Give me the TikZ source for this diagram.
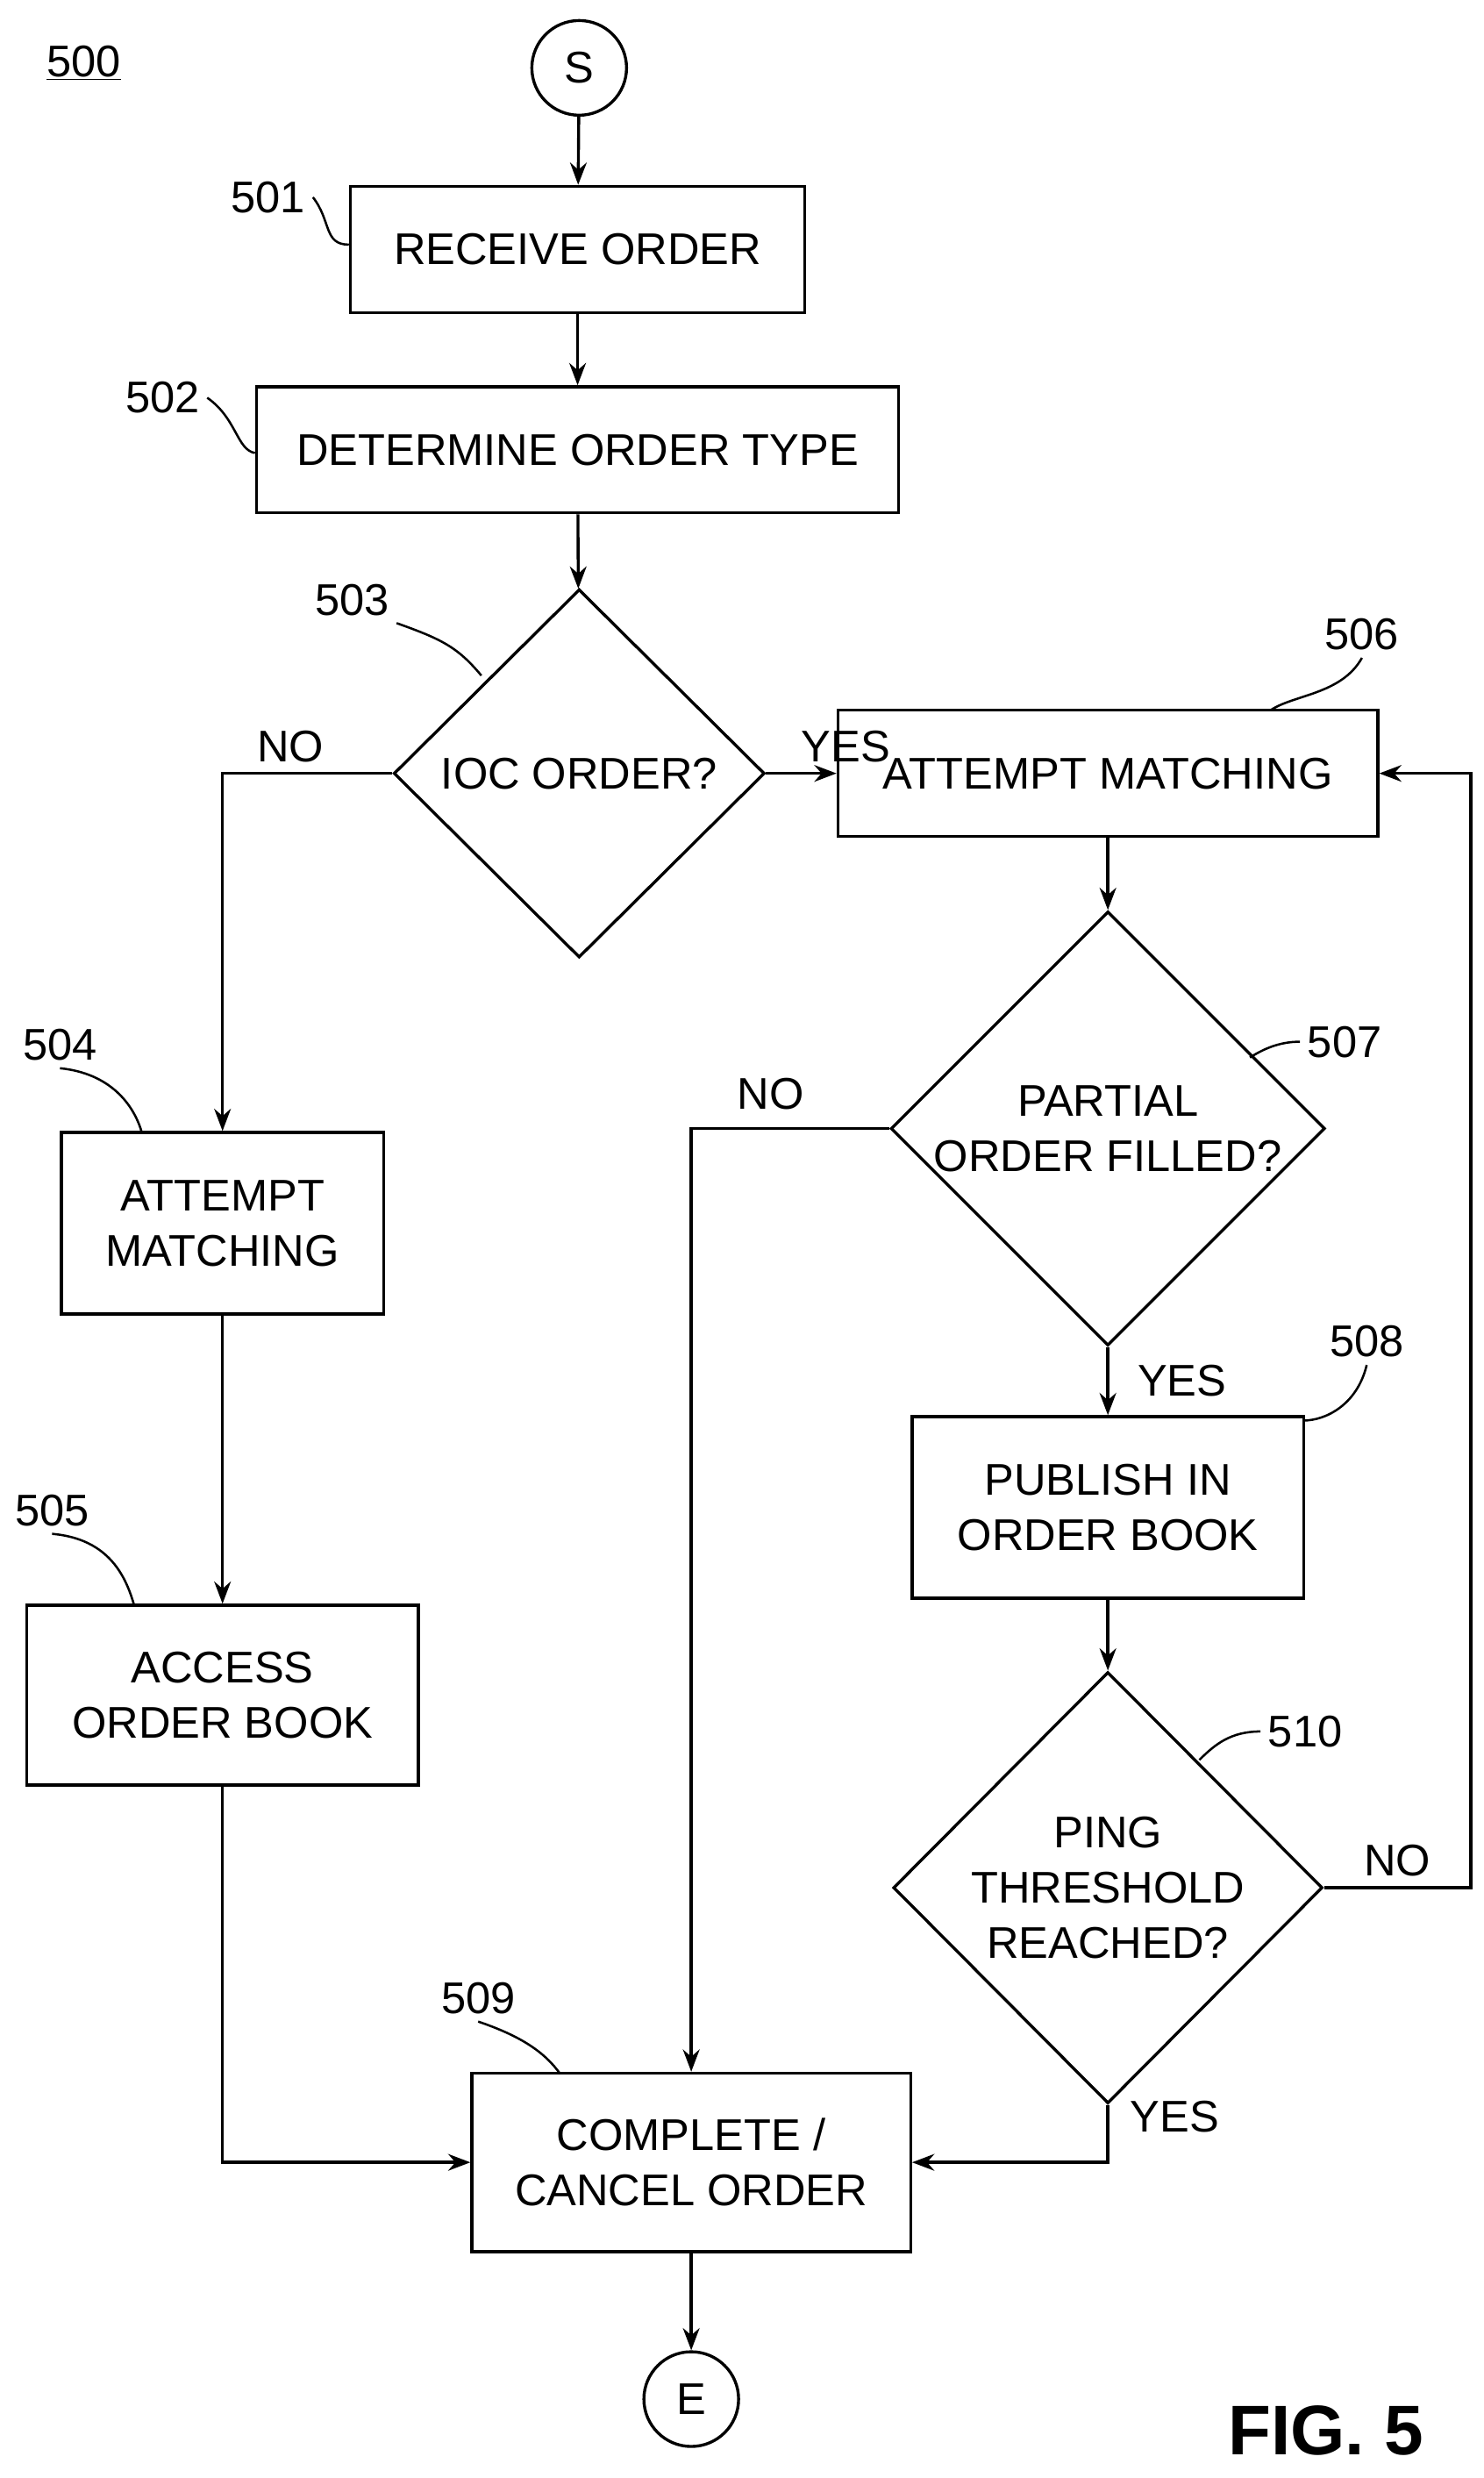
\documentclass[tikz,border=0pt]{standalone}
\usepackage{fontspec}
\setmainfont{Liberation Sans}
\usetikzlibrary{positioning, calc, arrows.meta, shapes.geometric}
\begin{document}
\begin{tikzpicture}[x=0.03cm, y=-0.03cm, line width=1.6pt,
  font=\fontsize{24}{30}\selectfont]
\tikzset{Step/.style={shape=rectangle, draw, align=center, inner sep=0pt}}
\tikzset{Ask/.style={shape=diamond, draw, align=center, inner sep=0pt}}
\tikzset{Term/.style={shape=circle, draw, minimum size=1.8cm, inner sep=0pt}}
\tikzset{flow/.style={-{Stealth[length=12pt,width=9pt]}}}
\tikzset{lead/.style={line width=1.2pt}}
\useasboundingbox (0,0) rectangle (940,1570);

% nodes
\node[Term] (s) at (367,43) {S};
\node[Step, minimum width=8.64cm, minimum height=2.4cm] (rcv) at (366,158) {RECEIVE ORDER};
\node[Step, minimum width=12.21cm, minimum height=2.4cm] (type) at (366,285) {DETERMINE ORDER TYPE};
\node[Ask, minimum width=7.05cm, minimum height=7cm] (ioc) at (367,490) {IOC ORDER?};
\node[Step, minimum width=10.26cm, minimum height=2.4cm] (matchA) at (702,490) {ATTEMPT MATCHING};
\node[Ask, minimum width=8.16cm, minimum height=8.16cm] (part) at (702,715) {PARTIAL\\ORDER FILLED?};
\node[Step, minimum width=6.12cm, minimum height=3.45cm] (matchB) at (141,775) {ATTEMPT\\MATCHING};
\node[Step, minimum width=7.44cm, minimum height=3.42cm] (book) at (141,1074) {ACCESS\\ORDER BOOK};
\node[Step, minimum width=7.44cm, minimum height=3.45cm] (pub) at (702,955) {PUBLISH IN\\ORDER BOOK};
\node[Ask, minimum width=8.16cm, minimum height=8.2cm] (ping) at (702,1196) {PING\\THRESHOLD\\REACHED?};
\node[Step, minimum width=8.34cm, minimum height=3.39cm] (done) at (438,1370) {COMPLETE /\\CANCEL ORDER};
\node[Term] (e) at (438,1520) {E};
\node (fig) at (840,1540) {\fontsize{38}{44}\selectfont\bfseries FIG. 5};
\node (n500) at (53,40) {\underline{500}};

% reference numbers
\node (n501) at (170,125) {501};
\node (n502) at (103,252) {502};
\node (n503) at (223,380) {503};
\node (n504) at (38,662) {504};
\node (n505) at (33,957) {505};
\node (n506) at (863,402) {506};
\node (n507) at (852,660) {507};
\node (n508) at (866,850) {508};
\node (n510) at (827,1097) {510};
\node (n509) at (303,1266) {509};
\draw[lead] (n501.east) .. controls (210,140) and (205,155) .. (rcv.west|-0,155);
\draw[lead] (n502.east) .. controls (150,265) and (150,285) .. (type.west|-0,287);
\draw[lead] (n503.south east) .. controls (280,405) and (290,410) .. (305,428);
\draw[lead] (n504.south) .. controls (70,680) and (85,700) .. (90,718);
\draw[lead] (n505.south) .. controls (70,975) and (80,1000) .. (85,1017);
\draw[lead] (n506.south) .. controls (850,440) and (820,440) .. (805,450);
\draw[lead] (n507.west) .. controls (810,660) and (800,665) .. (792,670);
\draw[lead] (n508.south) .. controls (860,890) and (840,900) .. (826,900);
\draw[lead] (n510.west) .. controls (780,1097) and (770,1105) .. (760,1115);
\draw[lead] (n509.south) .. controls (330,1290) and (345,1300) .. (355,1314);

% arrows
\draw[flow] (s) -- (rcv);
\draw[flow] (rcv) -- (type);
\draw[flow] (type) -- (ioc);
\draw[flow] (ioc.east) -- node[above right=2pt and -4pt] {YES} (matchA.west);
\draw[flow] (ioc.west) -| node[pos=0.3, above=2pt] {NO} (matchB.north);
\draw[flow] (matchA) -- (part);
\draw[flow] (part.west) -| node[pos=0.3, above=6pt] {NO} (done.north);
\draw[flow] (part.south) -- node[right=12pt] {YES} (pub.north);
\draw[flow] (pub) -- (ping);
\draw[flow] (matchB) -- (book);
\draw[flow] (book.south) |- (done.west);
\draw[flow] (ping.south) |- node[pos=0.1, right=8pt] {YES} (done.east);
\coordinate (loop) at (932,1196);
\draw[flow] (ping.east) -- node[above=2pt] {NO} (loop) |- (matchA.east);
\draw[flow] (done) -- (e);
\end{tikzpicture}
\end{document}
